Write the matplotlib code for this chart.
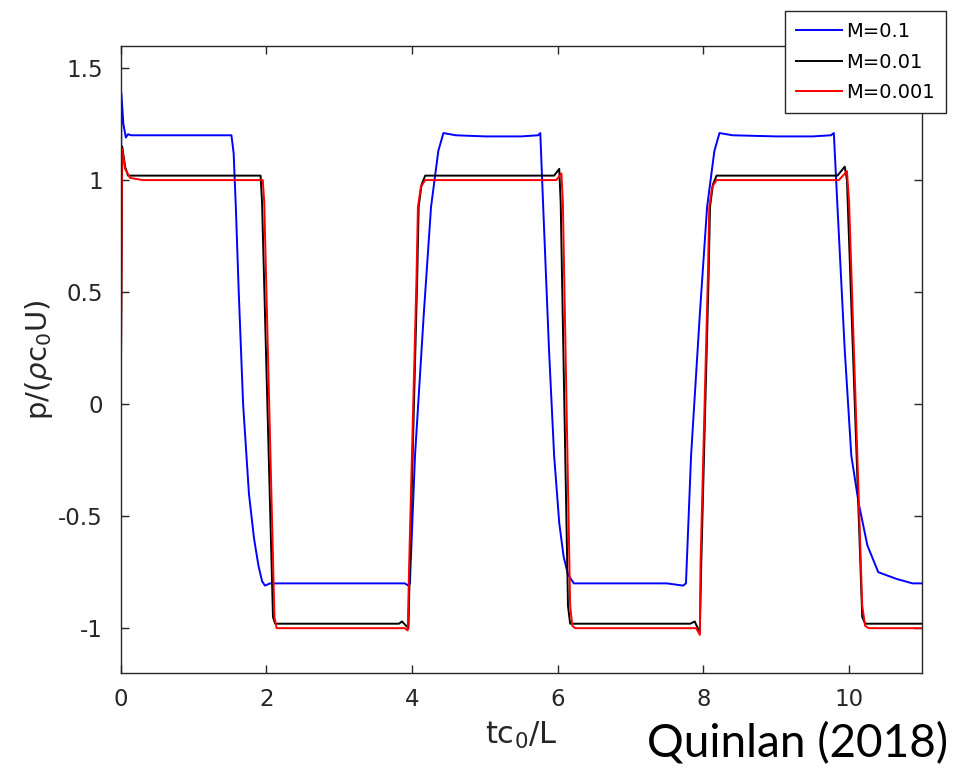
import numpy as np
import matplotlib
matplotlib.use("Agg")
import matplotlib.pyplot as plt

plt.rcParams["font.family"] = ["DejaVu Sans"]
plt.rcParams["mathtext.fontset"] = "dejavusans"

# M = 0.1 (blue)
t_m1 = [0, 0.008, 0.036, 0.07, 0.10, 0.14, 0.5, 1.0, 1.52, 1.55, 1.58, 1.62,
        1.68, 1.76, 1.83, 1.89, 1.94, 1.98, 2.05, 2.5, 3.0, 3.5, 3.9, 3.95, 3.97,
        4.04, 4.16, 4.26, 4.36, 4.43, 4.6, 5.0, 5.5, 5.73, 5.76, 5.80, 5.88,
        5.95, 6.02, 6.08, 6.14, 6.22, 6.5, 7.0, 7.5, 7.72, 7.76, 7.83, 7.95,
        8.05, 8.15, 8.22, 8.4, 9.0, 9.5, 9.75, 9.79, 9.84, 9.94, 10.03,
        10.13, 10.25, 10.40, 10.65, 10.87, 11.0]
p_m1 = [0, 1.39, 1.25, 1.19, 1.205, 1.2, 1.2, 1.2, 1.2, 1.12, 0.88, 0.50,
        0.0, -0.40, -0.60, -0.72, -0.79, -0.81, -0.80, -0.80, -0.80, -0.80, -0.80, -0.81, -0.80,
        -0.23, 0.40, 0.88, 1.13, 1.21, 1.2, 1.195, 1.195, 1.2, 1.21, 0.88, 0.24,
        -0.23, -0.53, -0.68, -0.76, -0.80, -0.80, -0.80, -0.80, -0.81, -0.80, -0.23, 0.40,
        0.88, 1.13, 1.21, 1.2, 1.195, 1.195, 1.2, 1.21, 0.88, 0.24, -0.23,
        -0.44, -0.63, -0.75, -0.78, -0.80, -0.80]

# M = 0.01 (black)
t_m2 = [0, 0.02, 0.06, 0.10, 0.3, 1.0, 1.92, 1.94, 2.09, 2.12, 2.5, 3.0,
        3.5, 3.82, 3.86, 3.92, 3.95, 3.97, 4.02, 4.07, 4.09, 4.13, 4.18, 5.0,
        5.95, 6.02, 6.04, 6.14, 6.17, 6.5, 7.0, 7.5, 7.82, 7.88, 7.95, 7.97,
        8.02, 8.07, 8.09, 8.13, 8.18, 9.0, 9.84, 9.94, 9.97, 10.18, 10.22, 11.0]
p_m2 = [0, 1.15, 1.06, 1.02, 1.02, 1.02, 1.02, 0.9, -0.95, -0.98, -0.98, -0.98,
        -0.98, -0.98, -0.97, -0.99, -1.0, -0.71, -0.07, 0.56, 0.88, 0.98, 1.02, 1.02,
        1.02, 1.05, 0.9, -0.9, -0.98, -0.98, -0.98, -0.98, -0.98, -0.97, -1.02, -0.71,
        -0.07, 0.56, 0.88, 0.98, 1.02, 1.02, 1.02, 1.06, 1.0, -0.95, -0.98, -0.98]

# M = 0.001 (red)
t_m3 = [0, 0.02, 0.06, 0.127, 0.3, 1.0, 1.95, 1.97, 2.11, 2.14, 2.5, 3.0,
        3.5, 3.9, 3.94, 3.96, 4.01, 4.06, 4.08, 4.12, 4.18, 5.0, 5.98, 6.05,
        6.07, 6.17, 6.2, 6.24, 6.5, 7.0, 7.5, 7.9, 7.95, 7.96, 8.01, 8.06,
        8.08, 8.12, 8.18, 9.0, 9.86, 9.97, 10.0, 10.18, 10.22, 10.27, 11.0]
p_m3 = [0, 1.14, 1.05, 1.01, 1.0, 1.0, 1.0, 0.9, -0.95, -1.0, -1.0, -1.0,
        -1.0, -1.0, -1.01, -0.71, -0.07, 0.56, 0.88, 0.97, 1.0, 1.0, 1.0, 1.03,
        0.9, -0.9, -0.99, -1.0, -1.0, -1.0, -1.0, -1.0, -1.03, -0.71, -0.07, 0.56,
        0.88, 0.97, 1.0, 1.0, 1.0, 1.04, 0.9, -0.9, -0.99, -1.0, -1.0]

labels = ["M=0.1", "M=0.01", "M=0.001"]
colors = ["#0000ff", "#000000", "#ff0000"]
x_ticks = [0, 2, 4, 6, 8, 10]
y_ticks = [-1, -0.5, 0, 0.5, 1, 1.5]
y_tick_labels = ["-1", "-0.5", "0", "0.5", "1", "1.5"]

fig = plt.figure(figsize=(9.56, 7.74), dpi=100)
ax = fig.add_axes([0.1263, 0.1305, 0.8381, 0.8105])

for t, p, c, lab in zip([t_m1, t_m2, t_m3], [p_m1, p_m2, p_m3], colors, labels):
    ax.plot(t, p, color=c, lw=1.4, label=lab)

ax.set_xlim(0, 11)
ax.set_ylim(-1.2, 1.6)
ax.set_xticks(x_ticks)
ax.set_xticklabels([str(v) for v in x_ticks])
ax.set_yticks(y_ticks)
ax.set_yticklabels(y_tick_labels)

gray = "#262626"
for s in ax.spines.values():
    s.set_color(gray)
    s.set_linewidth(1.0)
ax.tick_params(direction="in", length=6, width=1.0, colors=gray,
               labelsize=16.5, top=True, right=True)
ax.tick_params(axis="x", pad=11)
ax.tick_params(axis="y", pad=13)

ax.set_xlabel(r"tc$_0$/L", fontsize=22, color=gray, labelpad=6)
ax.set_ylabel(r"p/($\rho$c$_0$U)", fontsize=21, color=gray, labelpad=2)

leg = ax.legend(loc="upper right", bbox_to_anchor=(1.0296, 1.055),
                borderaxespad=0, fontsize=14, fancybox=False, framealpha=1,
                edgecolor=gray, handlelength=2.35, handletextpad=0.25,
                labelspacing=0.6, borderpad=0.55)
leg.get_frame().set_linewidth(1.0)

fig.text(0.9916, 0.022, "Quinlan (2018)", fontsize=33, family="Lato",
         ha="right", va="baseline", color="black")

fig.savefig("out.png", dpi=100)
